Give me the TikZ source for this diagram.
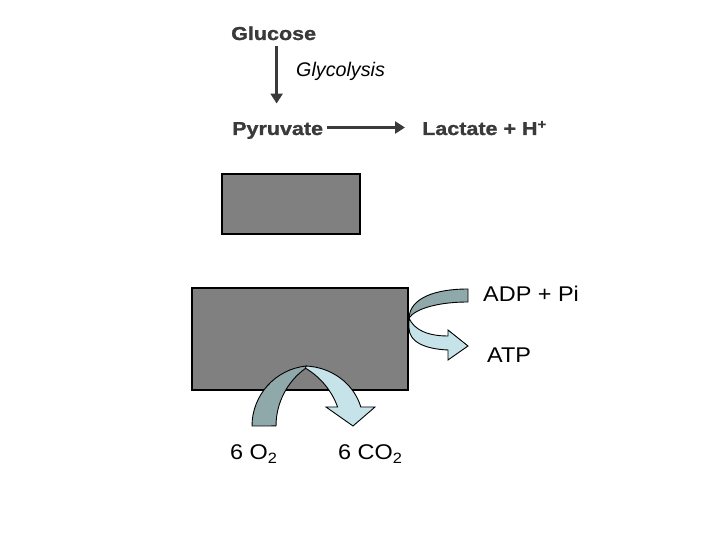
\documentclass[tikz,border=0pt]{standalone}
\usepackage{fontspec}
\setmainfont{Liberation Sans}
\newfontfamily\headfont[FakeStretch=1.15, BoldFeatures={FakeBold=1.2}]{Liberation Sans}
\newfontfamily\labfont[FakeStretch=1.1]{Liberation Sans}
\usetikzlibrary{arrows.meta}
\definecolor{inkgray}{RGB}{58,58,58}
\definecolor{boxgray}{RGB}{128,128,128}
\definecolor{tealdark}{RGB}{143,169,171}
\definecolor{teallight}{RGB}{197,227,233}
\begin{document}
\begin{tikzpicture}[x=1pt,y=1pt,
  head/.style={inner sep=0, anchor=base west, text=inkgray, font=\headfont\bfseries\fontsize{18.7}{22}\selectfont},
  note/.style={inner sep=0, anchor=base west, text=black, font=\itshape\fontsize{19.7}{23}\selectfont},
  lab/.style={inner sep=0, anchor=base west, text=black, font=\labfont\fontsize{21.3}{25}\selectfont},
  flow/.style={draw=inkgray, line width=3pt, -{Triangle[width=12pt,length=10pt]}},
  box/.style={draw=black, line width=1.5pt, fill=boxgray, inner sep=0},
  turnin/.style={draw=black, line width=0.9pt, fill=tealdark},
  turnout/.style={draw=black, line width=0.9pt, fill=teallight}]
\fill[white] (0,0) rectangle (720,540);
\node[head] (glucose) at (231,500) {Glucose};
\node[note] (glycolysis) at (296,463) {Glycolysis};
\node[head] (pyruvate) at (232,405) {Pyruvate};
\node[head] (lactate) at (422,405) {Lactate + H\textsuperscript{+}};
\draw[flow, shorten <=5.7pt, shorten >=18.4pt] ([xshift=3pt]glucose.south) -- ([xshift=3pt]glucose.south |- pyruvate.north);
\draw[flow, shorten <=4pt, shorten >=17pt] ([yshift=3pt]pyruvate.east) -- ([yshift=3pt]pyruvate.east -| lactate.west);
\node[box, minimum width=138pt, minimum height=60pt] (upper) at (291,336) {};
\node[box, minimum width=216pt, minimum height=102pt] (lower) at (300,201) {};
\draw[turnin] (468,251) -- (468,238) .. controls (440,238) and (416,232) .. (409,222) .. controls (410,242) and (435,251) .. (468,251) -- cycle;
\draw[turnout] (409,222) .. controls (414,210) and (428,204) .. (448,204) -- (448,210) -- (468,194) -- (448,180) -- (448,190) .. controls (425,191) and (409,198) .. (409,212) -- cycle;
\draw[turnin] (252,114) arc[start angle=180, end angle=95.7, radius=60.3] -- (306,172) arc[start angle=125.3, end angle=180, radius=71] -- cycle;
\draw[turnout] (306,174) arc[start angle=87.1, end angle=15.5, x radius=60, y radius=56] -- (375,133) -- (353,114) -- (326,133) -- (337.6,133) arc[start angle=19.8, end angle=59.3, radius=74.4] -- cycle;
\node[lab] (adp) at (483,238) {ADP + Pi};
\node[lab] (atp) at (487,177) {ATP};
\node[lab] (oxygen) at (230,80) {6 O\textsubscript{2}};
\node[lab] (carbon) at (338,80) {6 CO\textsubscript{2}};
\end{tikzpicture}
\end{document}
